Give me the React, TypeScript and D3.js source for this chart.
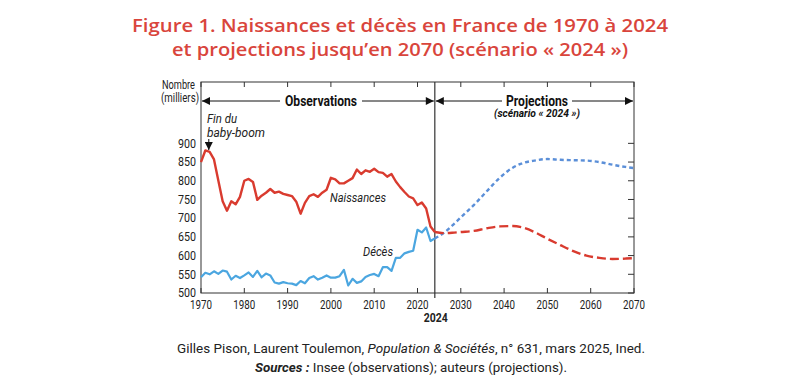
import React from 'react'
import * as d3 from 'd3'

// Observed data, France, thousands
const obsYears = d3.range(1970, 2025)
const birthsObs = [
  850, 881, 877, 857, 801, 745, 720, 745, 737, 757,
  800, 805, 797, 749, 760, 768, 778, 768, 771, 765,
  762, 759, 744, 712, 741, 759, 764, 757, 768, 776,
  808, 804, 793, 793, 800, 807, 830, 818, 828, 824,
  832, 823, 821, 811, 818, 798, 783, 770, 758, 753,
  735, 742, 726, 678, 663
]
const deathsObs = [
  542, 554, 550, 558, 551, 560, 557, 536, 546, 540,
  547, 555, 543, 559, 542, 552, 547, 528, 525, 529,
  526, 525, 521, 532, 526, 540, 545, 536, 541, 547,
  541, 541, 545, 562, 520, 538, 527, 531, 543, 548,
  551, 545, 569, 569, 559, 594, 594, 606, 610, 613,
  669, 662, 675, 639, 646
]

// Projections, scénario « 2024 »
const projYears = [2024, 2026, 2028, 2030, 2033, 2036, 2039, 2042, 2044, 2047, 2050, 2053, 2056, 2059, 2062, 2065, 2068, 2070]
const birthsProj = [663, 660, 661, 663, 666, 673, 678, 679, 676, 663, 645, 628, 612, 600, 594, 591, 592, 593]
const deathsProj = [646, 660, 680, 702, 735, 772, 808, 835, 846, 854, 858, 856, 855, 854, 850, 843, 837, 834]

const yTicks = [500, 550, 600, 650, 700, 750, 800, 850, 900]
const xTicks = [1970, 1980, 1990, 2000, 2010, 2020, 2030, 2040, 2050, 2060, 2070]

const RED = '#d93b2f'
const BLUE = '#4ba6e0'
const BLUE_PROJ = '#5b8fd8'
const AXIS = '#333'
const FONT = 'Roboto, "Noto Sans", sans-serif'

export default function App() {
  const W = 796
  const H = 387
  const x = d3.scaleLinear().domain([1970, 2070]).range([201, 634])
  const y = d3.scaleLinear().domain([500, 1064]).range([293, 82])
  const [x0, x1] = x.range()
  const [yb, yt] = y.range()
  const xCut = x(2024)

  const lineObs = d3.line<[number, number]>().x(d => x(d[0])).y(d => y(d[1]))
  const lineProj = d3.line<[number, number]>().x(d => x(d[0])).y(d => y(d[1])).curve(d3.curveMonotoneX)

  const zip = (xs: number[], vs: number[]) => xs.map((v, i) => [v, vs[i]] as [number, number])

  const arrowY = 101

  return (
    <svg width={W} height={H} style={{ position: 'absolute', left: 0, top: 0, background: '#fff' }} fontFamily={FONT}>
      <defs>
        <marker id="ah" viewBox="0 0 10 10" refX="10" refY="5" markerWidth="9" markerHeight="8" markerUnits="userSpaceOnUse" orient="auto-start-reverse">
          <path d="M0,0 L10,5 L0,10 z" fill="#111" />
        </marker>
      </defs>

      {/* title */}
      <g fill="#d9453c" fontFamily='"Open Sans", sans-serif' fontWeight={600} fontSize={18.5} textAnchor="middle">
        <text x={400} y={31.5} textLength={536} lengthAdjust="spacingAndGlyphs">Figure 1. Naissances et décès en France de 1970 à 2024</text>
        <text x={400} y={56} textLength={456} lengthAdjust="spacingAndGlyphs">et projections jusqu’en 2070 (scénario « 2024 »)</text>
      </g>

      {/* frame */}
      <rect x={x0} y={yt} width={x1 - x0} height={yb - yt} fill="none" stroke={AXIS} strokeWidth={1} />

      {/* ticks */}
      {xTicks.map(t => (
        <g key={t} stroke={AXIS}>
          <line x1={x(t)} x2={x(t)} y1={yb} y2={yb - 5} />
          <line x1={x(t)} x2={x(t)} y1={yt} y2={yt + 5} />
        </g>
      ))}
      {yTicks.map(t => (
        <line key={t} x1={x1} x2={x1 - 6} y1={y(t)} y2={y(t)} stroke={AXIS} />
      ))}

      {/* y labels */}
      <g fontSize={12.5} fill="#222" textAnchor="end">
        {yTicks.map(t => (
          <text key={t} x={196} y={y(t) + 1} dominantBaseline="middle" textLength={18} lengthAdjust="spacingAndGlyphs">{t}</text>
        ))}
        <text x={195} y={89} fontSize={12} textLength={33} lengthAdjust="spacingAndGlyphs">Nombre</text>
        <text x={199} y={102} fontSize={12} textLength={38} lengthAdjust="spacingAndGlyphs">(milliers)</text>
      </g>

      {/* x labels */}
      <g fontSize={12.5} fill="#222" textAnchor="middle">
        {xTicks.map(t => (
          <text key={t} x={x(t)} y={309} textLength={22} lengthAdjust="spacingAndGlyphs">{t}</text>
        ))}
        <text x={xCut + 1} y={322} fontWeight={700} textLength={24} lengthAdjust="spacingAndGlyphs">2024</text>
      </g>

      {/* 2024 separator */}
      <line x1={xCut} x2={xCut} y1={yt} y2={298} stroke={AXIS} strokeWidth={1.2} />

      {/* period arrows */}
      <line x1={x0 + 1} x2={xCut - 1} y1={arrowY} y2={arrowY} stroke="#111" strokeWidth={1} markerStart="url(#ah)" markerEnd="url(#ah)" />
      <line x1={xCut + 1} x2={x1 - 1} y1={arrowY} y2={arrowY} stroke="#111" strokeWidth={1} markerStart="url(#ah)" markerEnd="url(#ah)" />
      <rect x={280} y={arrowY - 8} width={82} height={16} fill="#fff" />
      <rect x={502} y={arrowY - 8} width={70} height={16} fill="#fff" />
      <g textAnchor="middle" fill="#111" fontWeight={700}>
        <text x={321} y={arrowY + 5} fontSize={14} textLength={72} lengthAdjust="spacingAndGlyphs">Observations</text>
        <text x={537} y={arrowY + 5} fontSize={14} textLength={62} lengthAdjust="spacingAndGlyphs">Projections</text>
        <text x={537} y={117} fontSize={10} fontStyle="italic" textLength={86} lengthAdjust="spacingAndGlyphs">(scénario « 2024 »)</text>
      </g>

      {/* series */}
      <path d={lineObs(zip(obsYears, deathsObs)) ?? ''} fill="none" stroke={BLUE} strokeWidth={2.2} strokeLinejoin="round" />
      <path d={lineObs(zip(obsYears, birthsObs)) ?? ''} fill="none" stroke={RED} strokeWidth={2.4} strokeLinejoin="round" />
      <path d={lineProj(zip(projYears, deathsProj)) ?? ''} fill="none" stroke={BLUE_PROJ} strokeWidth={2.4} strokeDasharray="4,3" />
      <path d={lineProj(zip(projYears, birthsProj)) ?? ''} fill="none" stroke={RED} strokeWidth={2.4} strokeDasharray="9,4" />

      {/* annotations */}
      <g fontStyle="italic" fill="#222" fontSize={12.5}>
        <text x={207} y={123} textLength={30} lengthAdjust="spacingAndGlyphs">Fin du</text>
        <text x={207} y={137} textLength={58} lengthAdjust="spacingAndGlyphs">baby-boom</text>
        <text x={330} y={202} textLength={56} lengthAdjust="spacingAndGlyphs">Naissances</text>
        <text x={363} y={256} textLength={30} lengthAdjust="spacingAndGlyphs">Décès</text>
      </g>
      <line x1={x(1971.8)} x2={x(1971.8)} y1={139} y2={150} stroke="#111" strokeWidth={1} markerEnd="url(#ah)" />

      {/* caption */}
      <g textAnchor="middle" fill="#222" fontSize={13.5}>
        <text x={411} y={353} textLength={468} lengthAdjust="spacingAndGlyphs">
          Gilles Pison, Laurent Toulemon, <tspan fontStyle="italic">Population &amp; Sociétés</tspan>, n° 631, mars 2025, Ined.
        </text>
        <text x={411} y={372} textLength={312} lengthAdjust="spacingAndGlyphs">
          <tspan fontStyle="italic" fontWeight={700}>Sources :</tspan> Insee (observations); auteurs (projections).
        </text>
      </g>
    </svg>
  )
}
